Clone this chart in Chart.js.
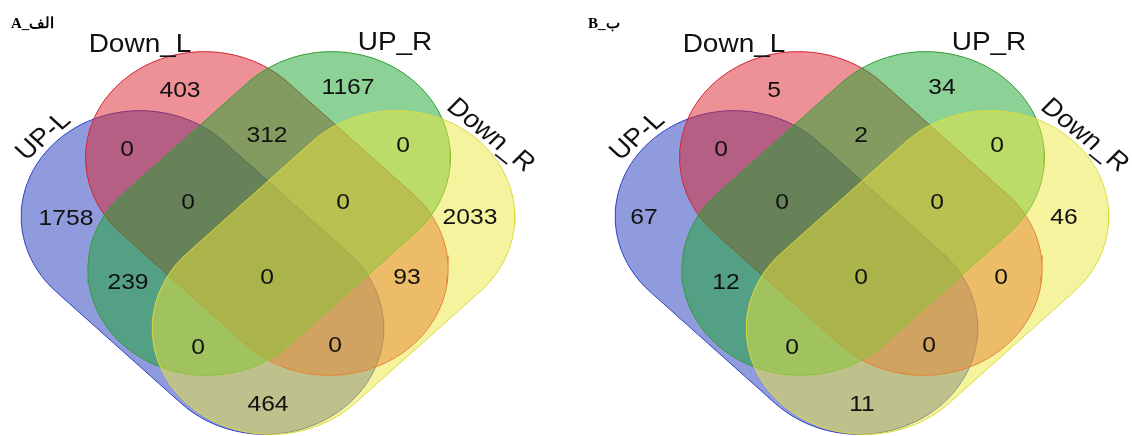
<!DOCTYPE html>
<html>
<head>
<meta charset="utf-8">
<script src="https://cdn.jsdelivr.net/npm/chart.js@4.4.1/dist/chart.umd.min.js"></script>
<style>
  html, body { margin: 0; padding: 0; background: #fff; }
  #wrap { position: relative; width: 1132px; height: 436px; }
</style>
</head>
<body>
<div id="wrap"><canvas id="venn"></canvas></div>
<script>
// sets and region counts (order of regions is the same for both panels)
const setNames = ['UP-L', 'Down_L', 'UP_R', 'Down_R'];
const regions = ['UP-L', 'Down_L', 'UP_R', 'Down_R', 'UP-L|Down_L', 'Down_L|UP_R', 'UP_R|Down_R',
  'UP-L|Down_L|UP_R', 'Down_L|UP_R|Down_R', 'all', 'UP-L|UP_R', 'Down_L|Down_R',
  'UP-L|UP_R|Down_R', 'UP-L|Down_L|Down_R', 'UP-L|Down_R'];
const countsA = [1758, 403, 1167, 2033, 0, 312, 0, 0, 0, 0, 239, 93, 0, 0, 464];
const countsB = [67, 5, 34, 46, 0, 2, 0, 0, 0, 0, 12, 0, 0, 0, 11];
const panelTitles = ['A_الف', 'B_ب'];

// layout (left panel, pixels); right panel is shifted
const panelShift = [0, 594];
const axisX = 268, stretch = 1.12;
const regionPos = [[66, 217], [180, 89], [348, 86], [470, 216], [127, 148], [267, 134], [403, 144],
  [188, 201], [343, 201], [267, 276], [128, 281], [407, 276], [198, 346], [335, 344], [268, 403]];
const regionPosB = { 0: [50, 216], 10: [132, 281] };
const setLabelPos = [[42, 135, -44], [140, 43, 0], [395, 41, 0], [492, 134, 42]];
const shapes = [
  { cx: 209.5, cy: 272.5, deg: 45, fill: 'rgba(32,55,185,0.5)', line: 'rgb(45,65,195)' },
  { cx: 267, cy: 213.5, deg: 45, fill: 'rgba(222,35,45,0.5)', line: 'rgb(212,35,50)' },
  { cx: 269, cy: 213.5, deg: 135, fill: 'rgba(25,165,45,0.5)', line: 'rgb(50,155,50)' },
  { cx: 326.5, cy: 272.5, deg: 135, fill: 'rgba(238,232,62,0.5)', line: 'rgb(218,218,60)' }
];
const R = 106, HALF = 79;

function capsule(cx, cy, deg, shift) {
  const a = deg * Math.PI / 180;
  const d = [Math.cos(a), Math.sin(a)], n = [-Math.sin(a), Math.cos(a)];
  const pts = [];
  const arc = (ox, oy, from) => {
    for (let i = 0; i <= 48; i++) {
      const t = from + Math.PI * i / 48;
      const x = ox + R * (Math.cos(t) * d[0] + Math.sin(t) * n[0]);
      const y = oy + R * (Math.cos(t) * d[1] + Math.sin(t) * n[1]);
      pts.push({ x: axisX + (x - axisX) * stretch + shift, y: y });
    }
  };
  arc(cx + HALF * d[0], cy + HALF * d[1], -Math.PI / 2);
  arc(cx - HALF * d[0], cy - HALF * d[1], Math.PI / 2);
  pts.push(pts[0]);
  return pts;
}

const datasets = [];
panelShift.forEach(function(shift) {
  shapes.forEach(function(s, i) {
    datasets.push({
      label: setNames[i],
      data: capsule(s.cx, s.cy, s.deg, shift),
      showLine: true,
      fill: 'shape',
      backgroundColor: s.fill,
      borderColor: s.line,
      borderWidth: 1,
      pointRadius: 0,
      tension: 0,
      order: 3 - i
    });
  });
});

function drawText(ctx, txt, x, y, size, rot) {
  ctx.save();
  ctx.translate(x, y);
  ctx.scale(stretch, 1);
  if (rot) ctx.rotate(rot * Math.PI / 180);
  ctx.font = size + 'px "Liberation Sans", Arial, sans-serif';
  ctx.textAlign = 'center';
  ctx.textBaseline = 'alphabetic';
  ctx.fillStyle = '#111';
  ctx.fillText(txt, 0, size * 0.36);
  ctx.restore();
}

const vennText = {
  id: 'vennText',
  afterDatasetsDraw(chart) {
    const ctx = chart.ctx, sx = chart.scales.x, sy = chart.scales.y;
    [countsA, countsB].forEach(function(counts, p) {
      counts.forEach(function(v, i) {
        const pos = (p === 1 && regionPosB[i]) ? regionPosB[i] : regionPos[i];
        drawText(ctx, String(v), sx.getPixelForValue(pos[0] + panelShift[p]),
          sy.getPixelForValue(pos[1]), 22, 0);
      });
      setNames.forEach(function(name, i) {
        const l = setLabelPos[i];
        drawText(ctx, name, sx.getPixelForValue(l[0] + panelShift[p]), sy.getPixelForValue(l[1]), 25, l[2]);
      });
      ctx.save();
      ctx.font = 'bold 15px "Liberation Serif", "Times New Roman", serif';
      ctx.fillStyle = '#000';
      ctx.textAlign = 'left';
      ctx.fillText(panelTitles[p], sx.getPixelForValue(11 + panelShift[p] - (p ? 17 : 0)), sy.getPixelForValue(28));
      ctx.restore();
    });
  }
};

new Chart(document.getElementById('venn'), {
  type: 'scatter',
  data: { datasets: datasets },
  options: {
    responsive: true,
    maintainAspectRatio: false,
    animation: false,
    events: [],
    layout: { padding: 0 },
    plugins: { legend: { display: false }, tooltip: { enabled: false } },
    scales: {
      x: { type: 'linear', min: 0, max: 1132, display: false },
      y: { type: 'linear', min: 0, max: 436, reverse: true, display: false }
    }
  },
  plugins: [vennText]
});
</script>
</body>
</html>
